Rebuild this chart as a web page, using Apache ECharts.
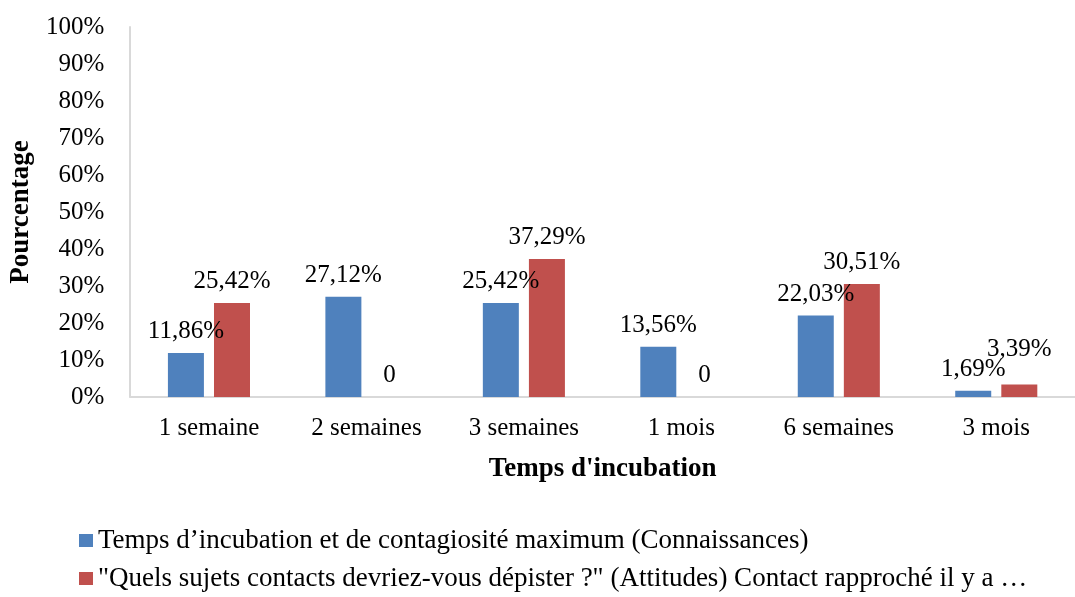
<!DOCTYPE html>
<html>
<head>
<meta charset="utf-8">
<script src="https://cdn.jsdelivr.net/npm/echarts@6/dist/echarts.min.js"></script>
<style>
html,body{margin:0;padding:0;background:#fff;}
#chart{width:1075px;height:597px;}
</style>
</head>
<body>
<div id="chart"></div>
<script>
var categories = ['1 semaine', '2 semaines', '3 semaines', '1 mois', '6 semaines', '3 mois'];
var seriesNames = [
  'Temps d\u2019incubation et de contagiosit\u00e9 maximum (Connaissances)',
  '"Quels sujets contacts devriez-vous d\u00e9pister ?" (Attitudes) Contact rapproch\u00e9 il y a \u2026'
];
var knowledge = [11.86, 27.12, 25.42, 13.56, 22.03, 1.69];
var attitudes = [25.42, 0, 37.29, 0, 30.51, 3.39];
var yTicks = [0, 10, 20, 30, 40, 50, 60, 70, 80, 90, 100];

var FONT = '"Liberation Serif", "Times New Roman", serif';

function fmt(v) {
  if (v === 0) return '0';
  return v.toFixed(2).replace('.', ',') + '%';
}

function makeData(arr, liftIdx) {
  return arr.map(function (v, i) {
    var d = { value: v };
    if (liftIdx && liftIdx.indexOf(i) >= 0) {
      d.label = { offset: [0, -14] };
    }
    return d;
  });
}

function legendFor(name, top) {
  return {
    orient: 'horizontal',
    left: 79,
    top: top,
    padding: 0,
    icon: 'rect',
    itemWidth: 14,
    itemHeight: 13,
    textStyle: { fontFamily: FONT, fontSize: 27, color: '#000', lineHeight: 27 },
    data: [name]
  };
}

var labelCfg = {
  show: true, position: 'top', distance: 9,
  fontFamily: FONT, fontSize: 25, color: '#000',
  formatter: function (p) { return fmt(p.value); }
};

var chart = echarts.init(document.getElementById('chart'));
chart.setOption({
  animation: false,
  backgroundColor: '#fff',
  textStyle: { fontFamily: FONT },
  grid: { left: 128, top: 27, width: 960, height: 370, containLabel: false },
  legend: [legendFor(seriesNames[0], 527), legendFor(seriesNames[1], 565)],
  xAxis: {
    type: 'category',
    data: categories,
    name: 'Temps d\'incubation',
    nameLocation: 'middle',
    nameGap: 59,
    nameTextStyle: { fontFamily: FONT, fontSize: 27, fontWeight: 'bold', color: '#000' },
    axisLine: { lineStyle: { color: '#d9d9d9', width: 2 } },
    axisTick: { show: false },
    axisLabel: { fontFamily: FONT, fontSize: 25, color: '#000', margin: 19 },
    splitLine: { show: false }
  },
  yAxis: {
    type: 'value',
    min: yTicks[0],
    max: yTicks[yTicks.length - 1],
    interval: 10,
    name: 'Pourcentage',
    nameLocation: 'middle',
    nameGap: 94,
    nameTextStyle: { fontFamily: FONT, fontSize: 27, fontWeight: 'bold', color: '#000' },
    axisLine: { show: true, lineStyle: { color: '#d9d9d9', width: 2 } },
    axisTick: { show: false },
    splitLine: { show: false },
    axisLabel: { fontFamily: FONT, fontSize: 25, color: '#000', margin: 26, formatter: '{value}%' }
  },
  series: [{
    name: seriesNames[0],
    type: 'bar',
    data: makeData(knowledge),
    barWidth: 36,
    barGap: '28%',
    itemStyle: { color: '#4F81BD' },
    label: labelCfg
  }, {
    name: seriesNames[1],
    type: 'bar',
    data: makeData(attitudes, [5]),
    barWidth: 36,
    itemStyle: { color: '#C0504D' },
    label: labelCfg
  }]
});
</script>
</body>
</html>
